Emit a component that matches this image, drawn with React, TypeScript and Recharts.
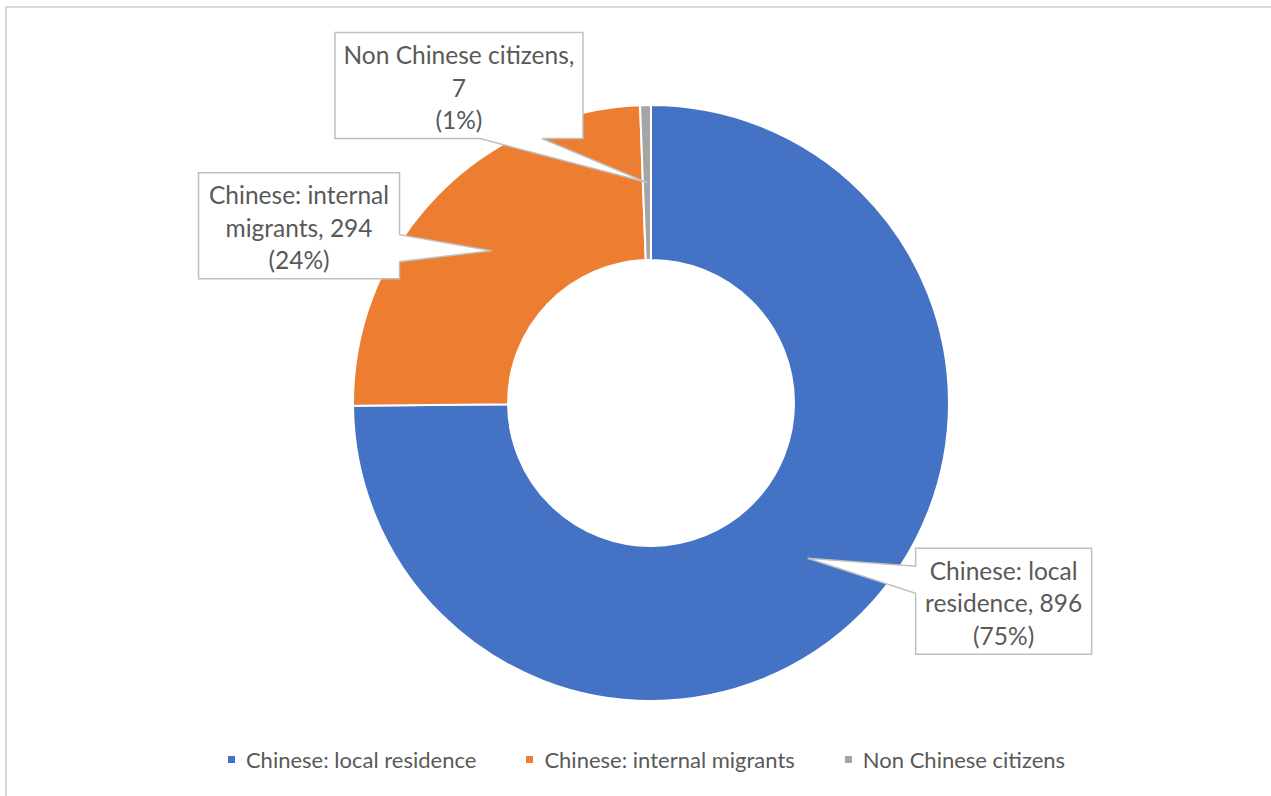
import { PieChart, Pie, Cell, Legend } from "recharts";

const categories = ["Chinese: local residence", "Chinese: internal migrants", "Non Chinese citizens"];
const counts = [896, 294, 7];
const percentLabels = ["75%", "24%", "1%"];
const colors = ["#4472C4", "#ED7D31", "#A5A5A5"];

// callout text, wrapped the way the original boxes wrap it
const labelLines = [
  ["Chinese: local", "residence, " + counts[0], "(" + percentLabels[0] + ")"],
  ["Chinese: internal", "migrants, " + counts[1], "(" + percentLabels[1] + ")"],
  ["Non Chinese citizens,", String(counts[2]), "(" + percentLabels[2] + ")"],
];

const data = categories.map((name, i) => ({ name, value: counts[i] }));

// box placement relative to the callout tip
const callouts = [
  { dx: 108, dy: -10, w: 176, h: 106, side: "left", a: 18, b: 45 },
  { dx: -293, dy: -78, w: 201, h: 106, side: "right", a: 62, b: 89 },
  { dx: -312, dy: -150, w: 248, h: 106, side: "bottom", a: 145, b: 207 },
];

const FONT = "Lato, 'Noto Sans', sans-serif";
const TEXT = "#595959";
const RADIAN = Math.PI / 180;

function renderCallout(props: any) {
  const { cx, cy, midAngle, innerRadius, outerRadius, index } = props;
  const r = (innerRadius + outerRadius) / 2;
  const tx = cx + r * Math.cos(-midAngle * RADIAN);
  const ty = cy + r * Math.sin(-midAngle * RADIAN);
  const c = callouts[index];
  const x0 = tx + c.dx;
  const y0 = ty + c.dy;
  const x1 = x0 + c.w;
  const y1 = y0 + c.h;
  let d = "";
  if (c.side === "left") {
    d = `M${x0},${y0} L${x1},${y0} L${x1},${y1} L${x0},${y1} L${x0},${y0 + c.b} L${tx},${ty} L${x0},${y0 + c.a} Z`;
  } else if (c.side === "right") {
    d = `M${x0},${y0} L${x1},${y0} L${x1},${y0 + c.a} L${tx},${ty} L${x1},${y0 + c.b} L${x1},${y1} L${x0},${y1} Z`;
  } else {
    d = `M${x0},${y0} L${x1},${y0} L${x1},${y1} L${x0 + c.b},${y1} L${tx},${ty} L${x0 + c.a},${y1} L${x0},${y1} Z`;
  }
  return (
    <g key={"callout-" + index}>
      <path d={d} fill="#fff" stroke="#bfbfbf" strokeWidth={1.5} />
      {labelLines[index].map((line, i) => (
        <text
          key={i}
          x={(x0 + x1) / 2}
          y={y0 + 22 + i * 32.5}
          textAnchor="middle"
          dominantBaseline="central"
          fill={TEXT}
          fontSize={24.5}
          fontFamily={FONT}
        >
          {line}
        </text>
      ))}
    </g>
  );
}

function LegendRow() {
  return (
    <div style={{ display: "flex", justifyContent: "center", alignItems: "center", paddingLeft: 22, fontFamily: FONT, fontSize: 22, color: TEXT }}>
      {categories.map((name, i) => (
        <div key={name} style={{ display: "flex", alignItems: "center", marginLeft: i === 0 ? 0 : 50 }}>
          <span style={{ display: "inline-block", width: 7, height: 7, background: colors[i], marginRight: 11 }} />
          <span>{name}</span>
        </div>
      ))}
    </div>
  );
}

export default function App() {
  return (
    <div style={{ position: "fixed", inset: 0, overflow: "hidden", background: "#fff" }}>
      <div style={{ position: "absolute", left: 5, top: 6, width: 1400, height: 900, border: "2px solid #d9d9d9" }} />
      <div style={{ position: "absolute", left: 0, top: 0 }}>
        <PieChart width={1271} height={796} margin={{ top: 0, right: 0, bottom: 0, left: 0 }}>
          <Pie
            data={data}
            dataKey="value"
            nameKey="name"
            cx={651}
            cy={403}
            innerRadius={143}
            outerRadius={298}
            startAngle={90}
            endAngle={-270}
            stroke="#fff"
            strokeWidth={2}
            label={renderCallout}
            labelLine={false}
            isAnimationActive={false}
          >
            {data.map((d, i) => (
              <Cell key={d.name} fill={colors[i]} />
            ))}
          </Pie>
          <Legend
            content={() => <LegendRow />}
            wrapperStyle={{ position: "absolute", top: 746, left: 0, width: 1271, bottom: "auto" }}
          />
        </PieChart>
      </div>
    </div>
  );
}
